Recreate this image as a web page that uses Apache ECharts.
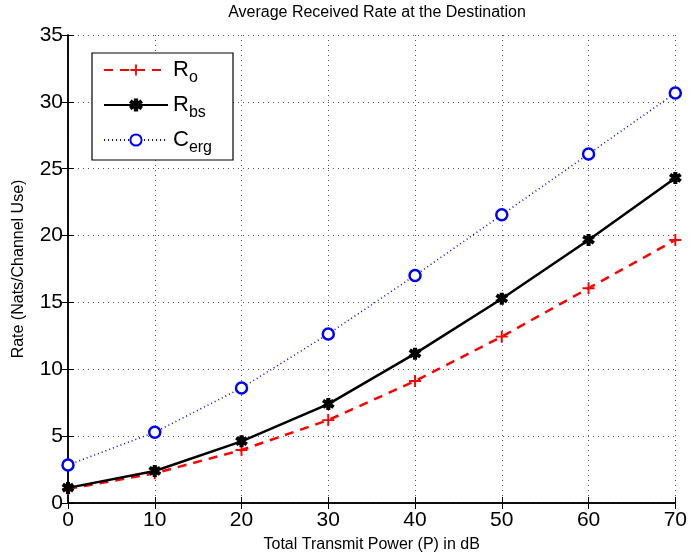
<!DOCTYPE html>
<html><head><meta charset="utf-8">
<script src="https://cdn.jsdelivr.net/npm/echarts@6/dist/echarts.min.js"></script>
<style>html,body{margin:0;padding:0;background:#fff}#c{width:690px;height:559px}</style>
</head><body><div id="c"></div>
<script>
var powers = [0, 10, 20, 30, 40, 50, 60, 70];
var rO   = [1.05, 2.22, 3.96, 6.2, 9.12, 12.44, 16.06, 19.67];
var rBs  = [1.13, 2.39, 4.61, 7.4, 11.17, 15.28, 19.67, 24.3];
var cErg = [2.84, 5.29, 8.6, 12.64, 17.02, 21.55, 26.1, 30.66];
var seriesNames = ['R{s|o}', 'R{s|bs}', 'C{s|erg}'];

function pairs(v){ return powers.map(function(p,i){ return [p, v[i]]; }); }
var font = 'Liberation Sans, Arial, sans-serif';
var chart = echarts.init(document.getElementById('c'));
var plusPath = 'path://M-1,-0.16L-0.16,-0.16L-0.16,-1L0.16,-1L0.16,-0.16L1,-0.16L1,0.16L0.16,0.16L0.16,1L-0.16,1L-0.16,0.16L-1,0.16Z';
var starPath = 'path://M-0.2,-1L0.2,-1L0.2,-0.4L0.75,-0.75L0.95,-0.45L0.4,-0.05L0.95,0.35L0.75,0.65L0.2,0.3L0.2,1L-0.2,1L-0.2,0.3L-0.75,0.65L-0.95,0.35L-0.4,-0.05L-0.95,-0.45L-0.75,-0.75L-0.2,-0.4Z';
chart.setOption({
  animation:false,
  title:{text:'Average Received Rate at the Destination',left:372,top:0,textAlign:'center',
    textStyle:{fontFamily:font,fontSize:16,fontWeight:'normal',color:'#000'}},
  grid:{left:68,right:14,top:35,bottom:56},
  legend:{
    left:92,top:53,orient:'vertical',itemWidth:64,itemHeight:14,itemGap:8,
    padding:[6,21,4,11],borderColor:'#000',borderWidth:1.2,backgroundColor:'#fff',
    data:seriesNames,
    textStyle:{fontFamily:font,fontSize:22,color:'#000',
      rich:{s:{fontFamily:font,fontSize:16,color:'#000',padding:[16,0,0,0]}}}
  },
  xAxis:[{type:'value',min:0,max:70,interval:10,position:'bottom',
    name:'Total Transmit Power (P) in dB',nameLocation:'middle',nameGap:34,
    nameTextStyle:{fontFamily:font,fontSize:16,color:'#000'},
    axisLine:{lineStyle:{color:'#000',width:1.5}},
    axisTick:{inside:true,length:6,lineStyle:{color:'#000'}},
    axisLabel:{fontFamily:font,fontSize:21,color:'#000',margin:7},
    splitLine:{show:true,lineStyle:{color:'#555',type:[1,4],width:1}}},
   {type:'value',min:0,max:70,interval:10,position:'top',
    axisLine:{show:true,lineStyle:{color:'#000',width:1.5}},
    axisTick:{inside:true,length:6,lineStyle:{color:'#000'}},
    axisLabel:{show:false},splitLine:{show:false}}],
  yAxis:[{type:'value',min:0,max:35,interval:5,position:'left',
    name:'Rate (Nats/Channel Use)',nameLocation:'middle',nameGap:41,
    nameTextStyle:{fontFamily:font,fontSize:16,color:'#000'},
    axisLine:{show:true,lineStyle:{color:'#000',width:1.5}},
    axisTick:{show:true,inside:true,length:6,lineStyle:{color:'#000'}},
    axisLabel:{fontFamily:font,fontSize:21,color:'#000',margin:5},
    splitLine:{show:true,lineStyle:{color:'#555',type:[1,4],width:1}}},
   {type:'value',min:0,max:35,interval:5,position:'right',
    axisLine:{show:true,lineStyle:{color:'#000',width:1.5}},
    axisTick:{show:true,inside:true,length:6,lineStyle:{color:'#000'}},
    axisLabel:{show:false},splitLine:{show:false}}],
  series:[
    {name:seriesNames[0],type:'line',data:pairs(rO),symbol:plusPath,symbolSize:12,
     lineStyle:{color:'#ff0000',width:2.5,type:[9,7]},itemStyle:{color:'#ff0000'},z:3},
    {name:seriesNames[1],type:'line',data:pairs(rBs),symbol:starPath,symbolSize:10,
     lineStyle:{color:'#000',width:2.5,type:'solid'},itemStyle:{color:'#000',borderColor:'#000',borderWidth:2},z:4},
    {name:seriesNames[2],type:'line',data:pairs(cErg),symbol:'circle',symbolSize:11,
     lineStyle:{color:'#0000ff',width:1.5,type:[1,3]},
     itemStyle:{color:'#fff',borderColor:'#0000ff',borderWidth:2.5},z:5}
  ]
});
</script></body></html>
